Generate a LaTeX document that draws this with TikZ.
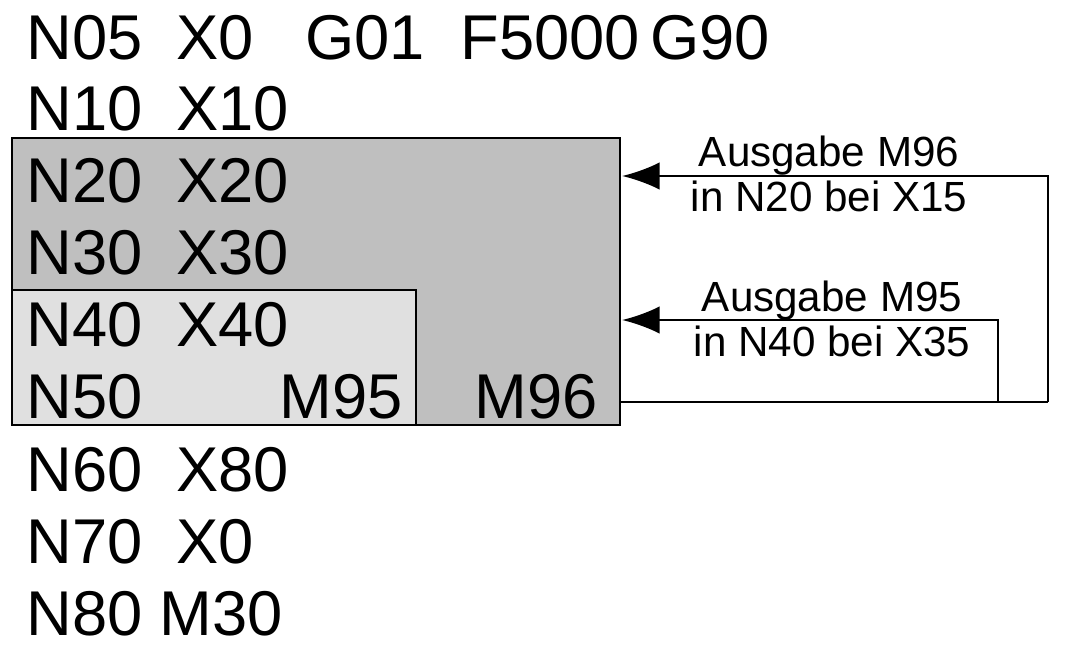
\documentclass[tikz,border=0pt]{standalone}
\usepackage{fontspec}
\setmainfont{Liberation Sans}
\usetikzlibrary{arrows.meta}
\begin{document}
\begin{tikzpicture}[x=0.2mm,y=-0.2mm,
  code/.style={anchor=base west,inner sep=0pt,font=\fontsize{36}{36}\selectfont},
  note/.style={align=center,inner sep=0pt,font=\fontsize{24}{26}\selectfont},
  flow/.style={line width=1.6pt,-{Latex[length=7.5mm,width=5.5mm]}}]
  \useasboundingbox (0,0) rectangle (1066,655);

  % blocks
  \fill[black!25] (12,138) rectangle (620,425);
  \fill[black!12] (12,290) rectangle (416,425);
  \draw[line width=0.6pt] (12,138) rectangle (620,425);
  \draw[line width=0.6pt] (12,425) -- (12,290) -- (416,290) -- (416,425);

  % program lines
  \node[code] (n05) at (26,60) {N05};
  \node[code] (x0a) at (176,60) {X0};
  \node[code] (g01) at (305,60) {G01};
  \node[code] (f5000) at (460,60) {F5000};
  \node[code] (g90) at (650,60) {G90};
  \node[code] (n10) at (26,131) {N10};
  \node[code] (x10) at (176,131) {X10};
  \node[code] (n20) at (26,203) {N20};
  \node[code] (x20) at (176,203) {X20};
  \node[code] (n30) at (26,275) {N30};
  \node[code] (x30) at (176,275) {X30};
  \node[code] (n40) at (26,347) {N40};
  \node[code] (x40) at (176,347) {X40};
  \node[code] (n50) at (26,419) {N50};
  \node[code,anchor=base east] (m95) at (403,419) {M95};
  \node[code,anchor=base east] (m96) at (598,419) {M96};
  \node[code] (n60) at (26,492) {N60};
  \node[code] (x80) at (176,492) {X80};
  \node[code] (n70) at (26,564) {N70};
  \node[code] (x0b) at (176,564) {X0};
  \node[code] (n80) at (26,636) {N80 M30};

  % feedback
  \coordinate (out) at (620,402);
  \coordinate (c1) at (1048,402);
  \coordinate (c2) at (1048,176);
  \coordinate (d1) at (998,402);
  \coordinate (d2) at (998,320);
  \coordinate (in20) at (622,176);
  \coordinate (in40) at (622,320);
  \draw[line width=1.6pt] (out) -- (c1);
  \draw[flow] (c1) -- (c2) -- (in20);
  \draw[flow] (d1) -- (d2) -- (in40);
  \node[note] (t96) at (829,174) {Ausgabe M96\\in N20 bei X15};
  \node[note] (t95) at (832,319) {Ausgabe M95\\in N40 bei X35};
\end{tikzpicture}
\end{document}
